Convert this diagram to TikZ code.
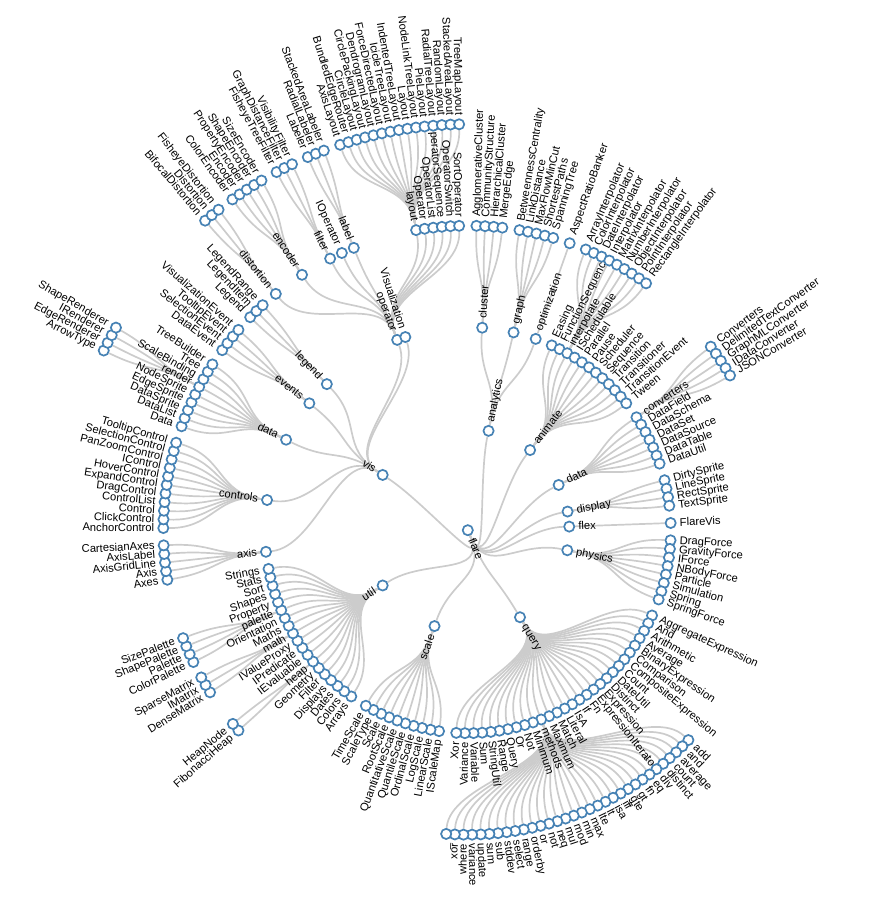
\documentclass[tikz,border=0pt]{standalone}
\usepackage{fontspec}
\newfontfamily\lblfont{Liberation Sans}

\definecolor{steel}{RGB}{70,130,180}
\definecolor{linkgray}{RGB}{204,204,204}
\pgfdeclarelayer{links}
\pgfsetlayers{links,main}

\tikzset{
  dot/.style={circle, draw=steel, fill=white, line width=1.7bp, minimum size=10.2bp, inner sep=0pt},
  link/.style={draw=linkgray, line width=1.7bp},
  lbl/.style={font=\lblfont\fontsize{11.24pt}{13pt}\selectfont, inner sep=0pt, text height=7pt, text depth=0pt},
}

% links are collected here and drawn at the end, below the nodes
\gdef\linklist{}

% node: name, parent, position (tree units), depth, text
\newcommand\addnode[5]{%
  \pgfmathsetmacro\na{90-(#3+2.41667)*4.88688}%
  \pgfmathsetmacro\nr{#4*101.5}%
  \expandafter\xdef\csname na@#1\endcsname{\na}%
  \expandafter\xdef\csname nr@#1\endcsname{\nr}%
  \node[dot] (#1) at (\na:\nr) {};
  \if\relax\detokenize{#2}\relax\else
    \edef\pa{\csname na@#2\endcsname}%
    \pgfmathsetmacro\nmid{(\csname nr@#2\endcsname+\nr)/2}%
    \xdef\linklist{\unexpanded\expandafter{\linklist}\noexpand\draw[link] (#2) .. controls (\pa:\nmid) and (\na:\nmid) .. (#1);}%
  \fi
  \pgfmathsetmacro\nt{\nr+9}%
  \ifdim\na pt>-90pt
    \node[lbl, anchor=west, rotate=\na] (#1-t) at (\na:\nt) {#5};
  \else
    \pgfmathsetmacro\nf{\na+180}%
    \node[lbl, anchor=east, rotate=\nf] (#1-t) at (\na:\nt) {#5};
  \fi}

% leaves: parent, first position, step, depth, names
\newcommand\addleaves[5]{%
  \foreach \lab [count=\i from 0] in {#5}{%
    \pgfmathsetmacro\lx{#2+\i*#3}%
    \addnode{\lab}{#1}{\lx}{#4}{\lab}}}

\begin{document}
\begin{tikzpicture}[x=1bp, y=1bp]
\useasboundingbox (-467.8,-369.8) rectangle (408.2,530.2);

\addnode{flare}{}{29.79167}{0}{flare}
\addnode{analytics}{flare}{0}{1}{analytics}
\addnode{animate}{flare}{5.33333}{1}{animate}
\addnode{data}{flare}{10.58333}{1}{data}
\addnode{display}{flare}{13.83333}{1}{display}
\addnode{flex}{flare}{15.58333}{1}{flex}
\addnode{physics}{flare}{18.33333}{1}{physics}
\addnode{query}{flare}{28.08333}{1}{query}
\addnode{scale}{flare}{38.33333}{1}{scale}
\addnode{util}{flare}{46.08333}{1}{util}
\addnode{vis}{flare}{59.58333}{1}{vis}

% analytics
\addnode{cluster}{analytics}{-1.58333}{2}{cluster}
\addnode{graph}{analytics}{0.25}{2}{graph}
\addnode{optimization}{analytics}{1.58333}{2}{optimization}
\addleaves{cluster}{-2.08333}{0.33333}{3}{AgglomerativeCluster,CommunityStructure,HierarchicalCluster,MergeEdge}
\addleaves{graph}{-0.41667}{0.33333}{3}{BetweennessCentrality,LinkDistance,MaxFlowMinCut,ShortestPaths,SpanningTree}
\addleaves{optimization}{1.58333}{0}{3}{AspectRatioBanker}

% animate
\addleaves{animate}{2.58333}{0.5}{2}{Easing,FunctionSequence}
\addnode{interpolate}{animate}{3.58333}{2}{interpolate}
\addleaves{animate}{4.08333}{0.5}{2}{ISchedulable,Parallel,Pause,Scheduler,Sequence,Transition,Transitioner,TransitionEvent,Tween}
\addleaves{interpolate}{2.25}{0.33333}{3}{ArrayInterpolator,ColorInterpolator,DateInterpolator,Interpolator,MatrixInterpolator,NumberInterpolator,ObjectInterpolator,PointInterpolator,RectangleInterpolator}

% data
\addnode{converters}{data}{9.08333}{2}{converters}
\addleaves{data}{9.58333}{0.5}{2}{DataField,DataSchema,DataSet,DataSource,DataTable,DataUtil}
\addleaves{converters}{8.41667}{0.33333}{3}{Converters,DelimitedTextConverter,GraphMLConverter,IDataConverter,JSONConverter}

% display, flex, physics
\addleaves{display}{13.08333}{0.5}{2}{DirtySprite,LineSprite,RectSprite,TextSprite}
\addleaves{flex}{15.58333}{0.5}{2}{FlareVis}
\addleaves{physics}{16.58333}{0.5}{2}{DragForce,GravityForce,IForce,NBodyForce,Particle,Simulation,Spring,SpringForce}

% query
\addleaves{query}{21.08333}{0.5}{2}{AggregateExpression,And,Arithmetic,Average,BinaryExpression,Comparison,CompositeExpression,Count,DateUtil,Distinct,Expression,ExpressionIterator,Fn,If,IsA,Literal,Match,Maximum}
\addnode{methods}{query}{30.08333}{2}{methods}
\addleaves{query}{30.58333}{0.5}{2}{Minimum,Not,Or,Query,Range,StringUtil,Sum,Variable,Variance,Xor}
\addleaves{methods}{24.91667}{0.33333}{3}{add,and,average,count,distinct,div,eq,fn,gt,gte,iff,isa,lt,lte,max,min,mod,mul,neq,not,or,orderby,range,select,stddev,sub,sum,update,variance,where,xor}
\addnode{under}{methods}{35.25}{3}{\_}

% scale
\addleaves{scale}{36.08333}{0.5}{2}{IScaleMap,LinearScale,LogScale,OrdinalScale,QuantileScale,QuantitativeScale,RootScale,Scale,ScaleType,TimeScale}

% util
\addleaves{util}{41.58333}{0.5}{2}{Arrays,Colors,Dates,Displays,Filter,Geometry}
\addnode{heap}{util}{44.58333}{2}{heap}
\addleaves{util}{45.08333}{0.5}{2}{IEvaluable,IPredicate,IValueProxy}
\addnode{math}{util}{46.58333}{2}{math}
\addleaves{util}{47.08333}{0.5}{2}{Maths,Orientation}
\addnode{palette}{util}{48.08333}{2}{palette}
\addleaves{util}{48.58333}{0.5}{2}{Property,Shapes,Sort,Stats,Strings}
\addleaves{heap}{44.41667}{0.33333}{3}{FibonacciHeap,HeapNode}
\addleaves{math}{46.25}{0.33333}{3}{DenseMatrix,IMatrix,SparseMatrix}
\addleaves{palette}{47.58333}{0.33333}{3}{ColorPalette,Palette,ShapePalette,SizePalette}

% vis
\addnode{axis}{vis}{51.58333}{2}{axis}
\addnode{controls}{vis}{54.58333}{2}{controls}
\addnode{vdata}{vis}{58.25}{2}{data}
\addnode{events}{vis}{60.75}{2}{events}
\addnode{legend}{vis}{62.25}{2}{legend}
\addnode{operator}{vis}{67.08333}{2}{operator}
\addleaves{vis}{67.58333}{0.5}{2}{Visualization}
\addleaves{axis}{50.91667}{0.33333}{3}{Axes,Axis,AxisGridLine,AxisLabel,CartesianAxes}
\addleaves{controls}{52.91667}{0.33333}{3}{AnchorControl,ClickControl,Control,ControlList,DragControl,ExpandControl,HoverControl,IControl,PanZoomControl,SelectionControl,TooltipControl}
\addleaves{vdata}{56.91667}{0.33333}{3}{Data,DataList,DataSprite,EdgeSprite,NodeSprite}
\addnode{render}{vdata}{58.58333}{3}{render}
\addleaves{vdata}{58.91667}{0.33333}{3}{ScaleBinding,Tree,TreeBuilder}
\addleaves{render}{58.20833}{0.25}{4}{ArrowType,EdgeRenderer,IRenderer,ShapeRenderer}
\addleaves{events}{60.25}{0.33333}{3}{DataEvent,SelectionEvent,TooltipEvent,VisualizationEvent}
\addleaves{legend}{61.91667}{0.33333}{3}{Legend,LegendItem,LegendRange}

% vis/operator
\addnode{distortion}{operator}{63.25}{3}{distortion}
\addnode{encoder}{operator}{64.5}{3}{encoder}
\addnode{filter}{operator}{65.75}{3}{filter}
\addleaves{operator}{66.25}{0}{3}{IOperator}
\addnode{label}{operator}{66.75}{3}{label}
\addnode{layout}{operator}{69.25}{3}{layout}
\addleaves{operator}{69.58333}{0.33333}{3}{Operator,OperatorList,OperatorSequence,OperatorSwitch,SortOperator}
\addleaves{distortion}{63}{0.25}{4}{BifocalDistortion,Distortion,FisheyeDistortion}
\addleaves{encoder}{64}{0.25}{4}{ColorEncoder,Encoder,PropertyEncoder,ShapeEncoder,SizeEncoder}
\addleaves{filter}{65.5}{0.25}{4}{FisheyeTreeFilter,GraphDistanceFilter,VisibilityFilter}
\addleaves{label}{66.5}{0.25}{4}{Labeler,RadialLabeler,StackedAreaLabeler}
\addleaves{layout}{67.5}{0.25}{4}{AxisLayout,BundledEdgeRouter,CircleLayout,CirclePackingLayout,DendrogramLayout,ForceDirectedLayout,IcicleTreeLayout,IndentedTreeLayout,Layout,NodeLinkTreeLayout,PieLayout,RadialTreeLayout,RandomLayout,StackedAreaLayout,TreeMapLayout}

\begin{pgfonlayer}{links}
\linklist
\end{pgfonlayer}
\end{tikzpicture}
\end{document}
